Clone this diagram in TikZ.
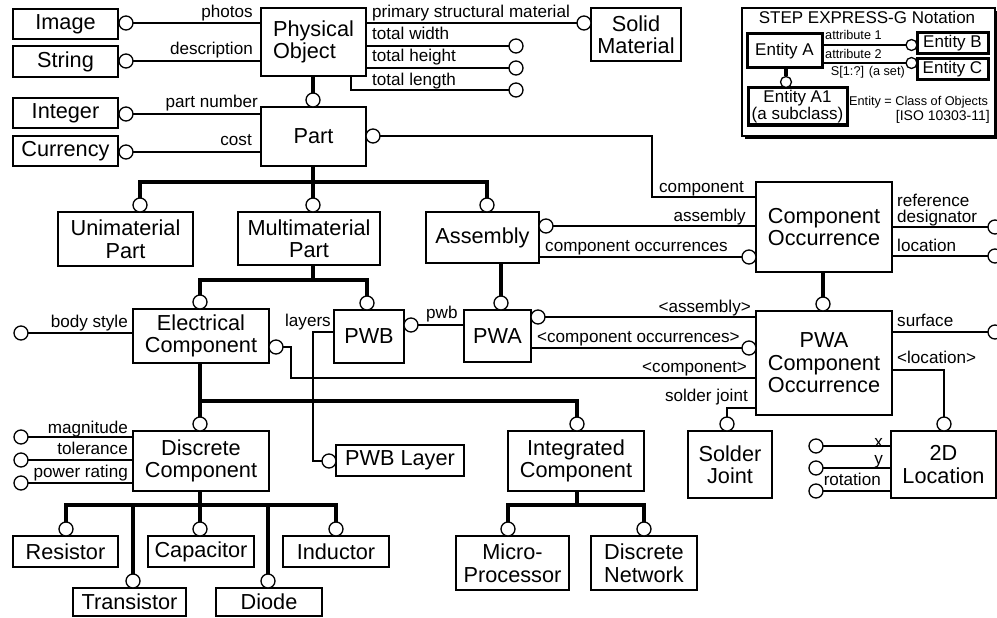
\documentclass[tikz,border=0pt]{standalone}
\usepackage{fontspec}
\setmainfont{Liberation Sans}
% entity box from its corner coordinates: [options]{name}{x1}{y1}{x2}{y2}{text}
\newcommand{\ent}[7][]{\node[ent,minimum width={#5-#3},minimum height={#6-#4},#1] (#2) at ({(#3+#5)/2},{(#4+#6)/2}) {#7};}
% attribute end circle: {name}{x}{y}
\newcommand{\ring}[3]{\node[ring] (#1) at (#2,#3) {};}
\begin{document}
\begin{tikzpicture}[x=1pt,y=-1pt,
  ent/.style={draw,line width=2.5pt,inner sep=0pt,outer sep=0pt,align=center,font=\fontsize{21.7}{22.5}\selectfont},
  keybox/.style={line width=3pt,font=\fontsize{17}{18}\selectfont},
  ring/.style={circle,draw,fill=white,line width=1.3pt,minimum size=14pt,inner sep=0pt,outer sep=0pt},
  keyring/.style={ring,minimum size=11pt},
  attr/.style={line width=1.3pt},
  subline/.style={line width=4.5pt},
  keysub/.style={line width=3.5pt},
  lab/.style={inner sep=0pt,font=\fontsize{17.1}{17.5}\selectfont},
  keytext/.style={inner sep=0pt,font=\fontsize{12.7}{14}\selectfont},
]
\useasboundingbox (0,0) rectangle (997,618);

% ---------- entities ----------
\ent{img}{13}{9}{118}{39}{Image}
\ent{str}{13}{46}{118}{77}{String}
\ent{int}{13}{98}{118}{128}{Integer}
\ent{cur}{13}{136}{118}{166}{Currency}
\ent[align=left]{po}{261}{8}{366}{76}{Physical\\Object}
\ent{solid}{591}{8}{681}{61}{Solid\\Material}
\ent{part}{261}{107}{366}{166}{Part}
\ent{uni}{58}{212}{193}{266}{Unimaterial\\Part}
\ent{multi}{238}{212}{380}{265}{Multimaterial\\Part}
\ent{asm}{426}{212}{539}{263}{Assembly}
\ent{co}{756}{182}{892}{272}{Component\\Occurrence}
\ent{ec}{133}{309}{269}{363}{Electrical\\Component}
\ent{pwb}{334}{310}{404}{363}{PWB}
\ent{pwa}{464}{310}{531}{362}{PWA}
\ent{pwaco}{756}{311}{892}{415}{PWA\\Component\\Occurrence}
\ent{dc}{133}{431}{269}{491}{Discrete\\Component}
\ent{pwbl}{336}{445}{464}{476}{PWB Layer}
\ent{ic}{508}{431}{644}{491}{Integrated\\Component}
\ent{sj}{688}{431}{772}{498}{Solder\\Joint}
\ent{loc}{891}{431}{996}{498}{2D\\Location}
\ent{res}{13}{536}{118}{567}{Resistor}
\ent{cap}{148}{536}{254}{567}{Capacitor}
\ent{ind}{283}{536}{389}{567}{Inductor}
\ent{tra}{73}{588}{186}{616}{Transistor}
\ent{dio}{216}{588}{322}{616}{Diode}
\ent{mp}{456}{536}{569}{590}{Micro-\\Processor}
\ent{dn}{591}{536}{697}{590}{Discrete\\Network}

% ---------- attribute circles ----------
\ring{c-img}{126}{23}
\ring{c-str}{126}{61}
\ring{c-int}{126}{114}
\ring{c-cur}{126}{152}
\ring{c-solid}{584}{23}
\ring{c-tw}{516}{46}
\ring{c-th}{516}{68}
\ring{c-tl}{516}{90}
\ring{c-pc}{373}{136}
\ring{c-ac}{546}{226}
\ring{c-coc}{749}{257}
\ring{c-ref}{995}{227}
\ring{c-locat}{995}{256}
\ring{c-pwb}{411}{325}
\ring{c-ec}{276}{347}
\ring{c-pa}{538}{317}
\ring{c-pcoc}{749}{348}
\ring{c-pwbl}{329}{461}
\ring{c-body}{21}{333}
\ring{c-mag}{21}{437}
\ring{c-tol}{21}{460}
\ring{c-pow}{21}{483}
\ring{c-sj}{727}{424}
\ring{c-loc}{944}{424}
\ring{c-surf}{995}{332}
\ring{c-x}{816}{446}
\ring{c-y}{816}{468}
\ring{c-rot}{816}{491}

% ---------- subtype circles ----------
\ring{s-po}{313}{100}
\ring{s-uni}{140}{205}
\ring{s-multi}{313}{205}
\ring{s-asm}{487}{205}
\ring{s-pwa}{501}{303}
\ring{s-ec}{200}{302}
\ring{s-pwb}{367}{303}
\ring{s-co}{823}{304}
\ring{s-dc}{200}{424}
\ring{s-ic}{577}{424}
\ring{s-res}{66}{529}
\ring{s-cap}{200}{529}
\ring{s-ind}{336}{529}
\ring{s-tra}{133}{581}
\ring{s-dio}{268}{581}
\ring{s-mp}{508}{529}
\ring{s-dn}{644}{529}

% ---------- bend points ----------
\coordinate (k-comp) at (652,197);
\coordinate (k-lay) at (313,332);
\coordinate (k-ecc) at (291,378);
\coordinate (k-sj) at (727,408);
\coordinate (k-loc) at (944,370);
\coordinate (bar1) at (0,182);
\coordinate (bar2) at (313,280);
\coordinate (bar3) at (0,401);
\coordinate (bar4) at (0,505);

% ---------- attribute connectors ----------
\draw[attr] (c-img) -- (c-img -| po.west);
\draw[attr] (c-str) -- (c-str -| po.west);
\draw[attr] (c-int) -- (c-int -| part.west);
\draw[attr] (c-cur) -- (c-cur -| part.west);
\draw[attr] (c-solid -| po.east) -- (c-solid);
\draw[attr] (c-tw -| po.east) -- (c-tw);
\draw[attr] (c-th -| po.east) -- (c-th);
\draw[attr] ([xshift=-15pt]po.south east) |- (c-tl);
\draw[attr] (c-pc) -| (k-comp) -- (k-comp -| co.west);
\draw[attr] (c-ac) -- (c-ac -| co.west);
\draw[attr] (c-coc -| asm.east) -- (c-coc);
\draw[attr] (c-ref -| co.east) -- (c-ref);
\draw[attr] (c-locat -| co.east) -- (c-locat);
\draw[attr] (c-pwb) -- (c-pwb -| pwa.west);
\draw[attr] (k-lay -| pwb.west) -- (k-lay) |- (c-pwbl);
\draw[attr] (c-ec) -| (k-ecc) -- (k-ecc -| pwaco.west);
\draw[attr] (c-pa) -- (c-pa -| pwaco.west);
\draw[attr] (c-pcoc -| pwa.east) -- (c-pcoc);
\draw[attr] (k-sj -| pwaco.west) -- (k-sj) -- (c-sj);
\draw[attr] (c-surf -| pwaco.east) -- (c-surf);
\draw[attr] (k-loc -| pwaco.east) -- (k-loc) -- (c-loc);
\draw[attr] (c-body) -- (c-body -| ec.west);
\draw[attr] (c-mag) -- (c-mag -| dc.west);
\draw[attr] (c-tol) -- (c-tol -| dc.west);
\draw[attr] (c-pow) -- (c-pow -| dc.west);
\draw[attr] (c-x) -- (c-x -| loc.west);
\draw[attr] (c-y) -- (c-y -| loc.west);
\draw[attr] (c-rot) -- (c-rot -| loc.west);

% ---------- subtype trees ----------
\draw[subline] (s-po |- po.south) -- (s-po);
\draw[subline] (s-multi |- part.south) -- (s-multi);
\draw[subline] (s-uni) |- (bar1 -| s-asm) -- (s-asm);
\draw[subline] (s-pwa |- asm.south) -- (s-pwa);
\draw[subline] (bar2 |- multi.south) -- (bar2);
\draw[subline] (s-ec) |- (bar2 -| s-pwb) -- (s-pwb);
\draw[subline] (s-co |- co.south) -- (s-co);
\draw[subline] (s-dc |- ec.south) -- (s-dc);
\draw[subline] (bar3 -| s-dc) -| (s-ic);
\draw[subline] (s-cap |- dc.south) -- (s-cap);
\draw[subline] (s-res) |- (bar4 -| s-ind) -- (s-ind);
\draw[subline] (s-tra |- bar4) -- (s-tra);
\draw[subline] (s-dio |- bar4) -- (s-dio);
\draw[subline] (s-ic |- ic.south) -- (s-ic |- bar4);
\draw[subline] (s-mp) |- (bar4 -| s-dn) -- (s-dn);

% ---------- attribute names ----------
\node[lab,anchor=base east] (l-photos) at (253,18) {photos};
\node[lab,anchor=base east] (l-desc) at (253,55) {description};
\node[lab,anchor=base east] (l-pn) at (258,108) {part number};
\node[lab,anchor=base east] (l-cost) at (252,146) {cost};
\node[lab,anchor=base west] (l-psm) at (372,18) {primary structural material};
\node[lab,anchor=base west] (l-tw) at (372,40) {total width};
\node[lab,anchor=base west] (l-th) at (372,62) {total height};
\node[lab,anchor=base west] (l-tl) at (372,85) {total length};
\node[lab,anchor=base east] (l-comp) at (744,192) {component};
\node[lab,anchor=base east] (l-asm) at (746,221) {assembly};
\node[lab,anchor=base west] (l-coc) at (545,251) {component occurrences};
\node[lab,anchor=base west] (l-ref) at (897,206) {reference};
\node[lab,anchor=base west] (l-des) at (897,222) {designator};
\node[lab,anchor=base west] (l-loc) at (897,251) {location};
\node[lab,anchor=base west] (l-pwb) at (426,318) {pwb};
\node[lab,anchor=base east] (l-lay) at (331,326) {layers};
\node[lab,anchor=base east] (l-body) at (128,327) {body style};
\node[lab,anchor=base east] (l-pasm) at (751,312) {<assembly>};
\node[lab,anchor=base west] (l-pcoc) at (537,342) {<component occurrences>};
\node[lab,anchor=base east] (l-pcomp) at (747,372) {<component>};
\node[lab,anchor=base east] (l-sj) at (748,401) {solder joint};
\node[lab,anchor=base west] (l-surf) at (897,326) {surface};
\node[lab,anchor=base west] (l-ploc) at (897,363) {<location>};
\node[lab,anchor=base east] (l-mag) at (128,433) {magnitude};
\node[lab,anchor=base east] (l-tol) at (128,454) {tolerance};
\node[lab,anchor=base east] (l-pow) at (128,477) {power rating};
\node[lab,anchor=base east] (l-x) at (883,447) {x};
\node[lab,anchor=base east] (l-y) at (883,464) {y};
\node[lab,anchor=base east] (l-rot) at (881,485) {rotation};

% ---------- notation key ----------
\fill (745,11) rectangle (998,139);
\node[draw,fill=white,line width=1.2pt,minimum width=253pt,minimum height=128pt,inner sep=0pt,outer sep=0pt] (legend) at (868.5,72) {};
\node[inner sep=0pt,font=\fontsize{17}{18}\selectfont,anchor=base] (legtitle) at (867,24) {STEP EXPRESS-G Notation};
\ent[keybox]{ka}{747}{34}{822}{68}{Entity A}
\ent[keybox]{kb}{917}{33}{988}{54}{Entity B}
\ent[keybox]{kc}{917}{59}{988}{80}{Entity C}
\ent[keybox,font=\fontsize{17}{17.5}\selectfont]{ka1}{748}{88}{847}{125}{Entity A1\\(a subclass)}
\node[keyring] (k-b) at (911.5,45) {};
\node[keyring] (k-c) at (911.5,63) {};
\node[keyring] (k-s) at (786,82) {};
\draw[attr] (k-b -| ka.east) -- (k-b);
\draw[attr] (k-c -| ka.east) -- (k-c);
\draw[keysub] (k-s |- ka.south) -- (k-s);
\node[keytext,anchor=base west] (kt-a1) at (825,40) {attribute 1};
\node[keytext,anchor=base west] (kt-a2) at (825,59) {attribute 2};
\node[keytext,anchor=base east] (kt-set) at (905,76) {S[1:?] (a set)};
\node[keytext,anchor=base west] (kt-def) at (849,106) {Entity = Class of Objects};
\node[keytext,anchor=base east,font=\fontsize{14}{15}\selectfont] (kt-iso) at (990,121) {[ISO 10303-11]};
\end{tikzpicture}
\end{document}
